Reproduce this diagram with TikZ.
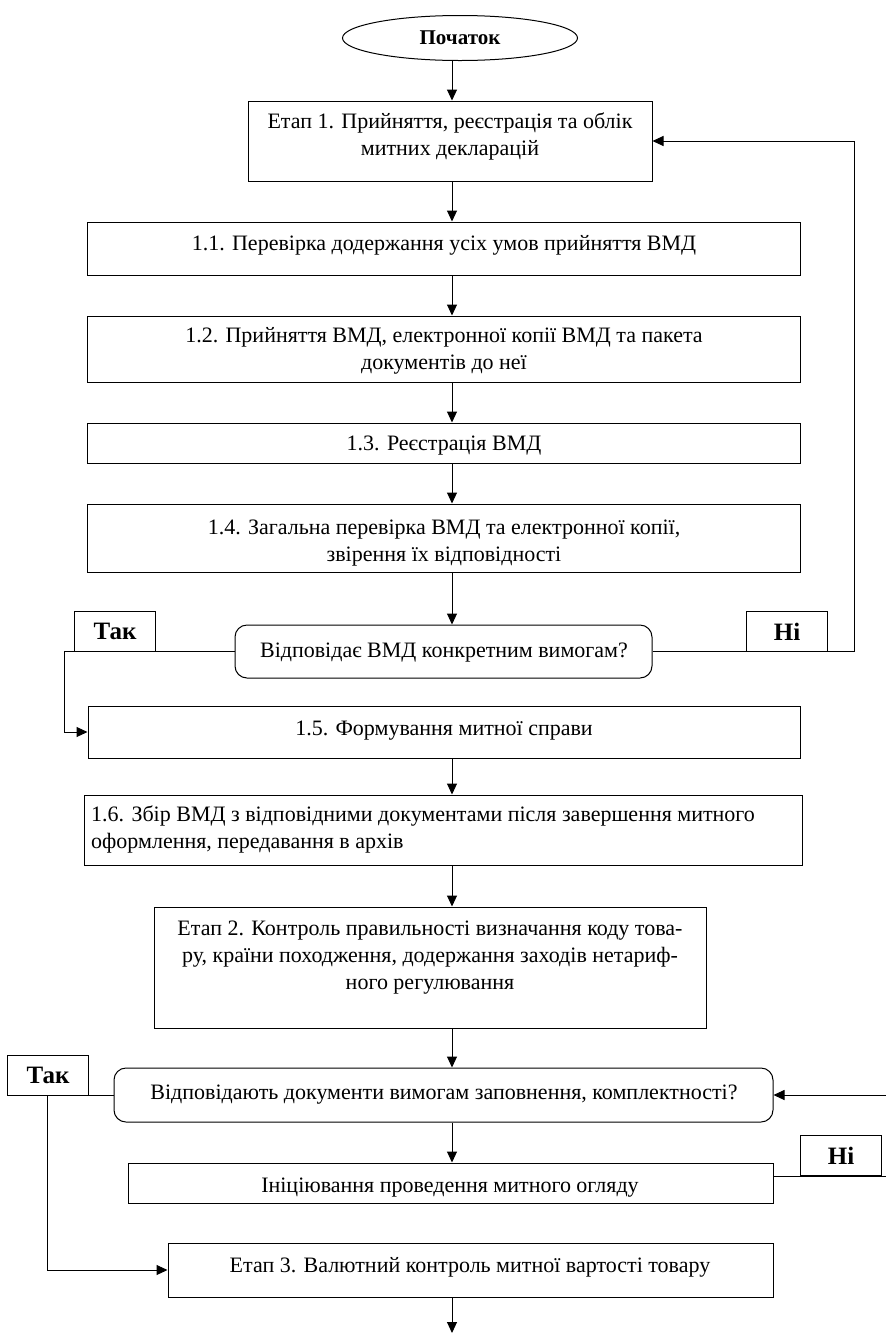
\documentclass[tikz,border=0pt]{standalone}
\usepackage{fontspec}
\setmainfont{Liberation Serif}
\usetikzlibrary{arrows.meta,shapes.geometric}
\newcommand\mkbox[6]{\node[#6, minimum width={(#4-#2)*1pt}, minimum height={(#5-#3)*1pt}] (#1) at ({(#2+#4)/2},{(#3+#5)/2}) {};}
\begin{document}
\begin{tikzpicture}[x=1pt,y=-1pt,
  box/.style={draw, line width=1pt, inner sep=0pt, rectangle},
  dec/.style={box, rounded corners=12pt},
  txt/.style={inner sep=0pt, font=\fontsize{22}{27}\selectfont, align=center},
  lab/.style={draw, line width=1pt, inner sep=0pt, fill=white, minimum width=81pt, minimum height=40pt, font=\fontsize{25}{28}\selectfont\bfseries},
  arr/.style={line width=1pt, -{Triangle[length=11pt,width=10pt]}},
  ln/.style={line width=1pt}]
\useasboundingbox (0,0) rectangle (886,1334);
\clip (0,0) rectangle (886,1334);
\coordinate (ax) at (452,0);
\coordinate (L1) at (64,0);
\coordinate (R1) at (854,0);
\coordinate (L2) at (47,0);
\coordinate (R2) at (888,0);
\coordinate (end) at (452,1333);

\node[draw, line width=1pt, ellipse, inner sep=0pt, minimum width=235pt, minimum height=45pt, font=\fontsize{21}{25}\selectfont\bfseries] (e) at (460,38) {Початок};

\mkbox{b1}{248}{101}{652}{181}{box}
\mkbox{b11}{87}{222}{800}{275}{box}
\mkbox{b12}{87}{316}{800}{382}{box}
\mkbox{b13}{87}{423}{800}{463}{box}
\mkbox{b14}{87}{504}{800}{572}{box}
\mkbox{d1}{235}{625}{652}{678}{dec}
\mkbox{b15}{88}{706}{800}{758}{box}
\mkbox{b16}{84}{795}{802}{865}{box}
\mkbox{b2}{154}{907}{706}{1028}{box}
\mkbox{d2}{114}{1068}{773}{1122}{dec}
\mkbox{bi}{128}{1163}{773}{1203}{box}
\mkbox{b3}{168}{1243}{773}{1297}{box}

\node[txt, anchor=base] (t1) at (450,155) {Етап 1. Прийняття, реєстрація та облік\\митних декларацій};
\node[txt, anchor=base] (t11) at (444,250) {1.1. Перевірка додержання усіх умов прийняття ВМД};
\node[txt, anchor=base] (t12) at (444,369) {1.2. Прийняття ВМД, електронної копії ВМД та пакета\\документів до неї};
\node[txt, anchor=base] (t13) at (444,450) {1.3. Реєстрація ВМД};
\node[txt, anchor=base] (t14) at (444,561) {1.4. Загальна перевірка ВМД та електронної копії,\\звірення їх відповідності};
\node[txt, anchor=base] (td1) at (444,657) {Відповідає ВМД конкретним вимогам?};
\node[txt, anchor=base] (t15) at (444,735) {1.5. Формування митної справи};
\node[txt, anchor=base west, align=left] (t16) at (91,848) {1.6. Збір ВМД з відповідними документами після завершення митного\\оформлення, передавання в архів};
\node[txt, anchor=base] (t2) at (430,989) {Етап 2. Контроль правильності визначання коду това-\\ру, країни походження, додержання заходів нетариф-\\ного регулювання};
\node[txt, anchor=base] (td2) at (444,1099) {Відповідають документи вимогам заповнення, комплектності?};
\node[txt, anchor=base] (ti) at (450,1192) {Ініціювання проведення митного огляду};
\node[txt, anchor=base] (t3) at (470,1272) {Етап 3. Валютний контроль митної вартості товару};

\draw[arr] (e.south -| ax) -- (b1.north -| ax);
\draw[arr] (b1.south -| ax) -- (b11.north -| ax);
\draw[arr] (b11.south -| ax) -- (b12.north -| ax);
\draw[arr] (b12.south -| ax) -- (b13.north -| ax);
\draw[arr] (b13.south -| ax) -- (b14.north -| ax);
\draw[arr] (b14.south -| ax) -- (d1.north -| ax);
\draw[arr] (d1.west) -- (d1.west -| L1) |- (b15.west);
\draw[arr] (d1.east) -- (d1.east -| R1) |- (b1.east);
\draw[arr] (b15.south -| ax) -- (b16.north -| ax);
\draw[arr] (b16.south -| ax) -- (b2.north -| ax);
\draw[arr] (b2.south -| ax) -- (d2.north -| ax);
\draw[arr] (d2.south -| ax) -- (bi.north -| ax);
\draw[arr] (d2.west) -- (d2.west -| L2) |- (b3.west);
\draw[arr] (bi.east |- 0,1176) -| (R2 |- d2.east) -- (d2.east);
\draw[arr] (b3.south -| ax) -- (end);

\node[lab, anchor=south west] (y1) at (74,652) {Так};
\node[lab, anchor=south west] (n1) at (746,652) {Ні};
\node[lab, anchor=south west] (y2) at (7,1096) {Так};
\node[lab, anchor=south west] (n2) at (800,1176) {Ні};
\end{tikzpicture}
\end{document}
